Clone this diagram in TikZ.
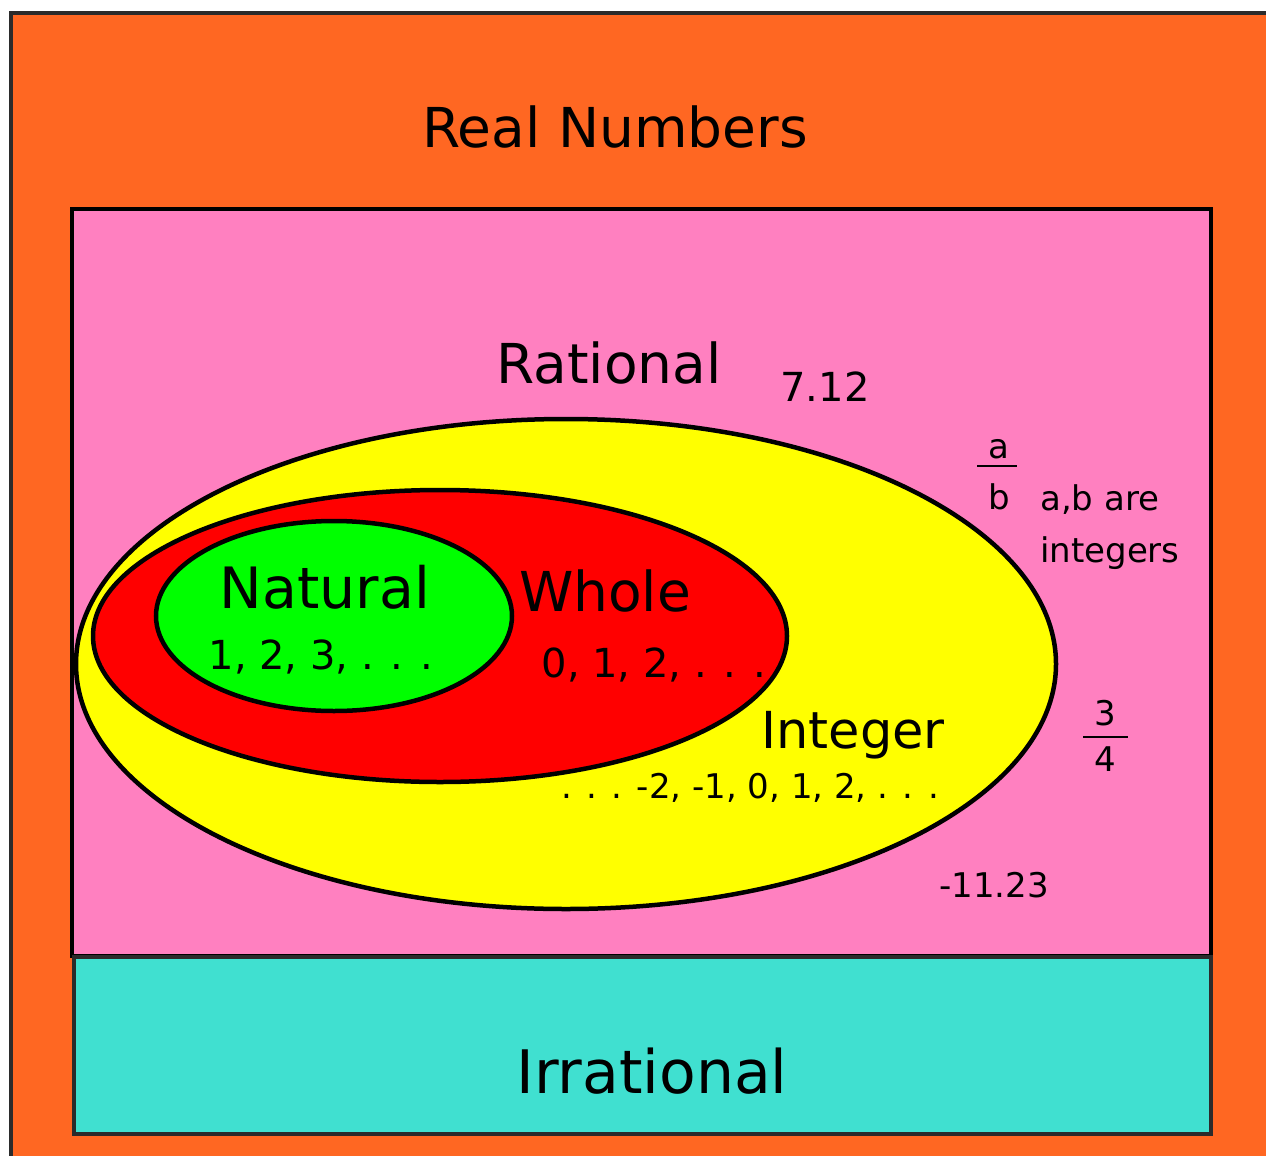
\documentclass[tikz,border=0pt]{standalone}
\usepackage{fontspec}
\setmainfont{DejaVu Sans}
\usepackage{tikz}
\usetikzlibrary{positioning,calc}
\definecolor{realorange}{RGB}{255,103,34}
\definecolor{ratpink}{RGB}{255,128,192}
\definecolor{irrcyan}{RGB}{64,224,208}
\definecolor{edgegray}{RGB}{43,43,43}
\definecolor{intyellow}{RGB}{255,255,0}
\definecolor{wholered}{RGB}{255,0,0}
\definecolor{natgreen}{RGB}{0,255,0}

\begin{document}
\begin{tikzpicture}[x=1pt, y=-1pt,
  big/.style={font=\fontsize{55}{62}\selectfont, inner sep=0pt},
  mid/.style={font=\fontsize{40}{46}\selectfont, inner sep=0pt},
  small/.style={font=\fontsize{34}{52}\selectfont, inner sep=0pt}]
  \useasboundingbox (0,0) rectangle (1266,1156);
  \begin{scope}
    \clip (0,0) rectangle (1266,1156);
    \fill[white] (0,0) rectangle (1266,1156);
    \draw[fill=realorange, draw=edgegray, line width=4.5pt] (11,13) rectangle (1290,1180);
  \end{scope}
  % rational and irrational boxes
  \draw[fill=ratpink, line width=4.5pt] (72,209) rectangle (1211,956);
  \draw[fill=irrcyan, draw=edgegray, line width=4.5pt] (74,957) rectangle (1211,1134);
  % nested sets
  \draw[fill=intyellow, line width=4.5pt] (566,664) ellipse (490 and 245);
  \draw[fill=wholered, line width=4.5pt] (440,636) ellipse (347 and 146);
  \draw[fill=natgreen, line width=4.5pt] (334,616) ellipse (178 and 95);
  % labels
  \node[big] (real) at (615,127) {Real Numbers};
  \node[big] (rat) at (609,363) {Rational};
  \node[big, font=\fontsize{57}{62}\selectfont] (nat) at (325,587) {Natural};
  \node[big] (whole) at (605,591) {Whole};
  \node[font=\fontsize{51}{56}\selectfont, inner sep=0pt] (intg) at (853,735) {Integer};
  \node[big, font=\fontsize{60}{66}\selectfont] (irr) at (652,1071) {Irrational};
  \node[mid] (natval) at (321,657) {1, 2, 3, . . .};
  \node[mid] (wholeval) at (654,665) {0, 1, 2, . . .};
  \node[font=\fontsize{34}{40}\selectfont, inner sep=0pt] (intval) at (750,788) {. . . -2, -1, 0, 1, 2, . . .};
  \node[font=\fontsize{40}{46}\selectfont, inner sep=0pt] (sevn) at (825,387) {7.12};
  \node[small] (neg) at (994,885) {-11.23};
  % fractions
  \node[small] (fa) at (999,449) {a};
  \node[small] (fb) at (999,497) {b};
  \draw[line width=2.5pt] (977,466) -- (1017,466);
  \node[small, align=left, anchor=west] (note) at (1040,527) {a,b are\\integers};
  \node[small] (tn) at (1105,713) {3};
  \node[small] (td) at (1105,759) {4};
  \draw[line width=2.5pt] (1083,737) -- (1128,737);
\end{tikzpicture}
\end{document}
